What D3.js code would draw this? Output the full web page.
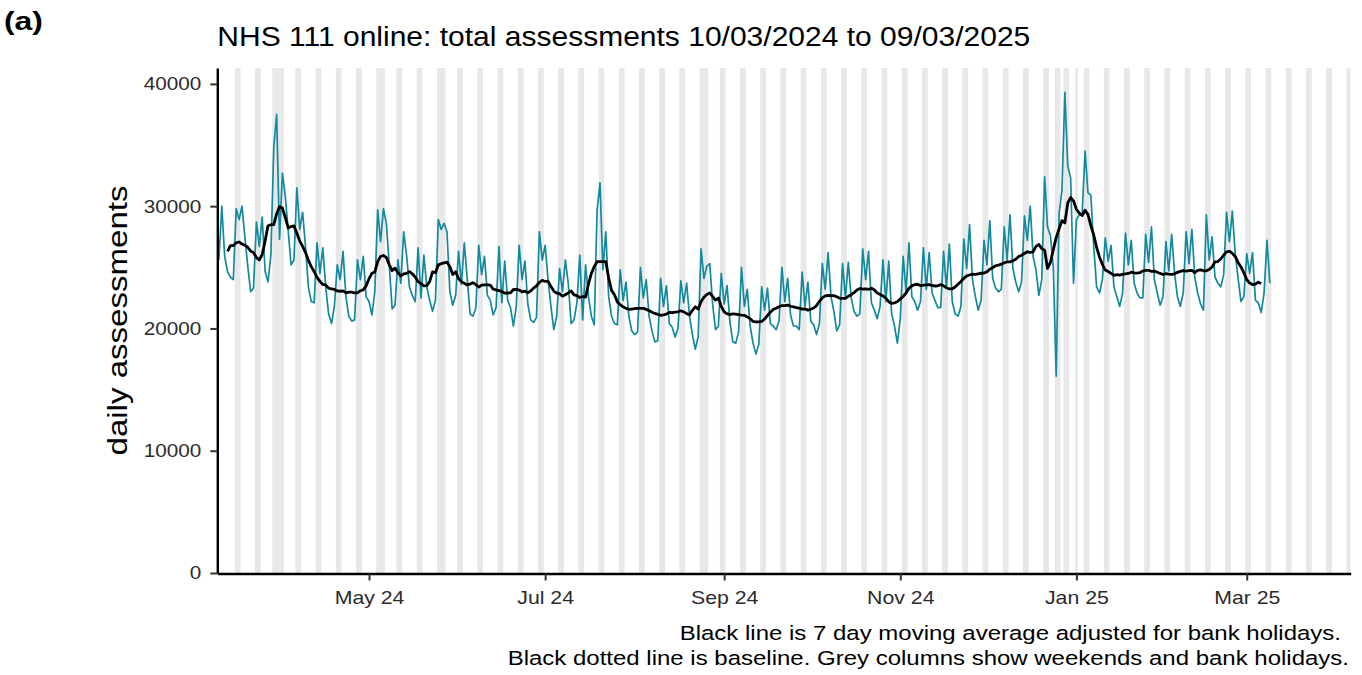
<!DOCTYPE html>
<html>
<head>
<meta charset="utf-8">
<script src="https://cdn.jsdelivr.net/npm/d3@7"></script>
<style>
body { margin: 0; background: #fff; }
text { font-family: "Liberation Sans", Arial, sans-serif; }
</style>
</head>
<body>
<svg id="chart" width="1362" height="675"></svg>
<script>
// daily total assessments, one array per month (March 2024 starts on the 10th)
var mar24 = [25600, 30000, 25900, 24650, 24200, 24000, 29800, 28900, 30000, 27500, 25100,
             23000, 23300, 28700, 26700, 29100, 24700, 23800, 26000, 34800, 37500, 27300];
var apr24 = [32700, 30800, 28000, 25200, 25600, 31500, 28100, 29500, 26700, 23400,
             22200, 22100, 27000, 24500, 26600, 23400, 21200, 20400, 21800, 25200,
             24000, 26300, 22600, 21000, 20600, 20700, 25600, 24000, 25900, 22600];
var may24 = [22200, 21100, 23000, 29700, 27100, 29800, 28600, 25200, 21600, 21900,
             25600, 23700, 27900, 26000, 23400, 22700, 22200, 26600, 22500, 26000,
             23400, 22300, 21400, 22300, 28900, 28100, 28600, 27900, 23000, 21900, 22700];
var jun24 = [26300, 23600, 27000, 24100, 21200, 21000, 21700, 26800, 24400, 25900,
             22700, 22300, 21100, 21700, 26700, 22100, 25500, 22300, 21700, 20200,
             21800, 26800, 24000, 25500, 22000, 20700, 20500, 20900, 27900, 25600];
var jul24 = [26800, 24000, 21800, 19900, 21000, 24900, 23000, 25600, 23700, 20400,
             20700, 22100, 26000, 20700, 25200, 22600, 21000, 20300, 29700, 31900,
             24800, 27900, 22600, 21000, 20400, 20300, 24800, 22300, 23800, 21000, 19800];
var aug24 = [19500, 19700, 25000, 22500, 24000, 21000, 19800, 18900, 19000, 24100,
             21800, 23500, 20400, 20100, 19300, 20000, 23900, 22100, 23700, 21000,
             19500, 18300, 19300, 26500, 24100, 25100, 25300, 22000, 19900, 20200, 24500];
var sep24 = [22000, 23500, 20500, 18900, 18800, 19700, 25000, 21800, 23200, 20200,
             18800, 17900, 18700, 23400, 21500, 23300, 20400, 20200, 19900, 20600,
             25000, 22200, 24100, 21100, 20200, 20200, 19900, 24600, 21800, 23800];
var oct24 = [20600, 20300, 19500, 20400, 25300, 23200, 26200, 22600, 21400, 19800,
             20300, 25300, 22500, 25400, 22500, 21400, 21000, 21200, 26500, 24000,
             26300, 22100, 21500, 20800, 21800, 25600, 22200, 25500, 21200, 20200, 18800];
var nov24 = [20800, 25900, 23000, 27000, 22600, 22200, 21500, 22200, 26600, 23200,
             26200, 22900, 22300, 21700, 21700, 26300, 23300, 26900, 22200, 21200,
             21000, 21800, 27300, 24900, 28500, 24000, 22600, 21500, 22300, 27200];
var dec24 = [25200, 28800, 24100, 23300, 23000, 23200, 28300, 25600, 29300, 24900,
             23800, 23000, 23800, 29200, 27200, 30000, 25900, 24800, 22700, 24000,
             32400, 28300, 27600, 25000, 16100, 29400, 31300, 39300, 33300, 32300, 23700];
var jan25 = [28900, 29300, 29400, 34500, 31100, 30900, 26700, 23400, 22900, 24000,
             27400, 25500, 26800, 23400, 22600, 21800, 22900, 27800, 25200, 27200,
             23700, 22900, 22500, 22500, 27700, 25400, 28300, 24000, 22900, 21900, 22600];
var feb25 = [27100, 24700, 27700, 24500, 22600, 21800, 22900, 27900, 25300, 28100,
             24200, 22900, 22000, 21500, 29300, 25600, 27500, 24200, 23700, 23400,
             24400, 29500, 27100, 29600, 26100, 24100, 22200, 22600];
var mar25 = [26100, 24500, 26200, 22300, 22100, 21300, 22900, 27200, 23700];

var bankHolidays = ["2024-03-29", "2024-04-01", "2024-05-06", "2024-05-27",
                    "2024-08-26", "2024-12-25", "2024-12-26", "2025-01-01"];
var tickDates = ["2024-05-01", "2024-07-01", "2024-09-01", "2024-11-01", "2025-01-01", "2025-03-01"];
var yTicks = [0, 10000, 20000, 30000, 40000];

var titleText = "NHS 111 online: total assessments 10/03/2024 to 09/03/2025";
var captionLines = ["Black line is 7 day moving average adjusted for bank holidays.",
                    "Black dotted line is baseline. Grey columns show weekends and bank holidays."];

var DAY = 864e5;
var start = Date.UTC(2024, 2, 10);
var endDate = Date.UTC(2025, 3, 6);
var holidaySet = new Set(bankHolidays);
var iso = function(dt){ return dt.toISOString().slice(0, 10); };

var values = [].concat(mar24, apr24, may24, jun24, jul24, aug24, sep24, oct24, nov24, dec24, jan25, feb25, mar25);
var data = values.map(function(v, i){
    var dt = new Date(start + i * DAY);
    return {date: dt, value: v, holiday: holidaySet.has(iso(dt))};
});

// bank holidays behave like weekend days, so scale them to a weekday level
// before taking the centred 7 day average
var weekendVals = [], weekdayVals = [];
data.forEach(function(p){
    if (p.holiday) return;
    var wd = p.date.getUTCDay();
    if (wd == 0 || wd == 6) weekendVals.push(p.value);
    else weekdayVals.push(p.value);
});
var bhFactor = d3.mean(weekdayVals) / d3.mean(weekendVals);
var adjusted = data.map(function(p){ return p.holiday ? p.value * bhFactor : p.value; });

var avg = [];
for (var i = 3; i < adjusted.length - 3; i++) {
    avg.push({date: data[i].date, value: d3.mean(adjusted.slice(i - 3, i + 4))});
}

var margins = {left: 217.3, right: 1350.7, top: 68, bottom: 573};

var svg = d3.select("#chart");

var xScale = d3.scaleUtc()
    .domain([new Date(start - 0.55 * DAY), new Date(endDate)])
    .range([margins.left, margins.right]);

var yScale = d3.scaleLinear()
    .domain([0, 41300])
    .range([margins.bottom, margins.top]);

// grey columns: weekends and bank holidays, merged into runs
var runs = [];
var lastDay = Math.round((endDate - start) / DAY);
for (var d = 1; d <= lastDay; d++) {
    var dt = new Date(start + d * DAY);
    var wd = dt.getUTCDay();
    var off = wd == 0 || wd == 6 || holidaySet.has(iso(dt));
    if (!off) continue;
    if (runs.length && runs[runs.length - 1][1] == d - 1) runs[runs.length - 1][1] = d;
    else runs.push([d, d]);
}

svg.append("g")
    .selectAll("rect")
    .data(runs)
    .enter()
    .append("rect")
    .attr("x", function(r){ return xScale(new Date(start + (r[0] - 0.5) * DAY)); })
    .attr("width", function(r){
        var x0 = xScale(new Date(start + (r[0] - 0.5) * DAY));
        var x1 = Math.min(margins.right, xScale(new Date(start + (r[1] + 0.5) * DAY)));
        return x1 - x0;
    })
    .attr("y", margins.top)
    .attr("height", margins.bottom - margins.top)
    .attr("fill", "#e8e8e8");

var lineGenerator = d3.line()
    .x(function(p){ return xScale(p.date); })
    .y(function(p){ return yScale(p.value); });

svg.append("path")
    .datum(data)
    .attr("d", lineGenerator)
    .attr("fill", "none")
    .attr("stroke", "#13899d")
    .attr("stroke-width", 1.7)
    .attr("stroke-linejoin", "round");

svg.append("path")
    .datum(avg)
    .attr("d", lineGenerator)
    .attr("fill", "none")
    .attr("stroke", "#000")
    .attr("stroke-width", 2.8)
    .attr("stroke-linejoin", "round");

// the reference face runs wider than Arial: stretch by a factor or to a width
function stretch(sel, k) {
    sel.each(function() {
        var w = this.getComputedTextLength();
        d3.select(this).attr("textLength", w * k).attr("lengthAdjust", "spacingAndGlyphs");
    });
}
function stretchTo(sel, w) {
    sel.attr("textLength", w).attr("lengthAdjust", "spacingAndGlyphs");
}

var yAxis = d3.axisLeft(yScale)
    .tickValues(yTicks)
    .tickSize(7)
    .tickSizeOuter(0)
    .tickPadding(9)
    .tickFormat(d3.format("d"));

var xAxis = d3.axisBottom(xScale)
    .tickValues(tickDates.map(function(s){ return new Date(s + "T00:00:00Z"); }))
    .tickSize(7)
    .tickSizeOuter(0)
    .tickPadding(10)
    .tickFormat(d3.utcFormat("%b %y"));

var gy = svg.append("g")
    .attr("transform", "translate(" + margins.left + ",0)")
    .call(yAxis);

var gx = svg.append("g")
    .attr("transform", "translate(0," + (margins.bottom + 0.5) + ")")
    .call(xAxis);

[gx, gy].forEach(function(g) {
    g.select(".domain").attr("stroke", "#000").attr("stroke-width", 2.4);
    g.selectAll(".tick line").attr("stroke", "#333").attr("stroke-width", 2);
    g.selectAll(".tick text")
        .attr("fill", "#2b2b2b")
        .style("font-size", "18.5px")
        .style("font-family", "'Liberation Sans', Arial, sans-serif");
});
stretch(gy.selectAll(".tick text"), 1.12);
stretch(gx.selectAll(".tick text"), 1.15);

svg.append("text")
    .attr("transform", "translate(126.5,320.5) rotate(-90)")
    .attr("text-anchor", "middle")
    .style("font-size", "27.5px")
    .attr("fill", "#000")
    .text("daily assessments")
    .call(stretchTo, 270);

svg.append("text")
    .attr("x", 217.3)
    .attr("y", 46)
    .style("font-size", "27.5px")
    .attr("fill", "#000")
    .text(titleText)
    .call(stretchTo, 813);

svg.append("text")
    .attr("x", 4)
    .attr("y", 30)
    .style("font-size", "25px")
    .style("font-weight", "bold")
    .attr("fill", "#000")
    .text("(a)")
    .call(stretchTo, 39);

svg.selectAll(".caption")
    .data(captionLines)
    .enter()
    .append("text")
    .attr("class", "caption")
    .attr("text-anchor", "end")
    .attr("x", function(s, i){ return i == 0 ? 1341 : 1349; })
    .attr("y", function(s, i){ return 640 + i * 25; })
    .style("font-size", "20.5px")
    .attr("fill", "#000")
    .text(function(s){ return s; })
    .call(stretch, 1.17);
</script>
</body>
</html>
